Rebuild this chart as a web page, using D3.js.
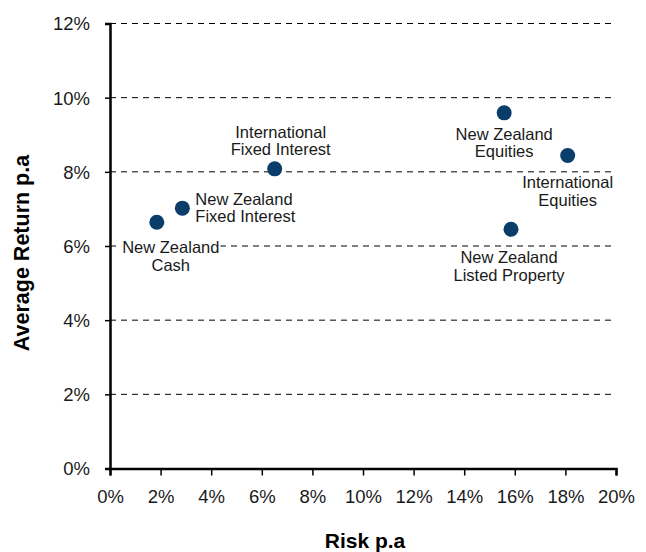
<!DOCTYPE html>
<html>
<head>
<meta charset="utf-8">
<script src="https://cdn.jsdelivr.net/npm/d3@7"></script>
<style>
  body { margin: 0; background: #fff; }
  svg { display: block; font-family: "Liberation Sans", Arial, sans-serif; }
</style>
</head>
<body>
<div id="chart"></div>
<script>
// asset classes, risk (x) and average return (y), both in %
var names = [
  ["New Zealand", "Cash"],
  ["New Zealand", "Fixed Interest"],
  ["International", "Fixed Interest"],
  ["New Zealand", "Equities"],
  ["International", "Equities"],
  ["New Zealand", "Listed Property"]
]
var risk = [1.85, 2.86, 6.51, 15.58, 18.09, 15.85]
var ret = [6.64, 7.02, 8.08, 9.59, 8.44, 6.45]

// where each label sits relative to its dot
var labelPos = [
  { dx: 14, dy: 25, anchor: "middle" },
  { dx: 13, dy: -9, anchor: "start" },
  { dx: 6, dy: -37, anchor: "middle" },
  { dx: 0, dy: 21, anchor: "middle" },
  { dx: 0, dy: 27, anchor: "middle" },
  { dx: -2, dy: 28, anchor: "middle" }
]

var xTicks = [0, 2, 4, 6, 8, 10, 12, 14, 16, 18, 20]
var yTicks = [0, 2, 4, 6, 8, 10, 12]

var width = 646, height = 552
var margin = { top: 23.5, right: 30, bottom: 83.5, left: 110 }

var data = names.map((n, i) => ({ name: n, x: risk[i], y: ret[i], pos: labelPos[i] }))

var x = d3.scaleLinear().domain([0, 20]).range([margin.left, width - margin.right])
var y = d3.scaleLinear().domain([0, 12]).range([height - margin.bottom, margin.top])

var svg = d3.select('#chart').append('svg')
  .attr('width', width)
  .attr('height', height)

// dashed grid lines
svg.append('g')
  .selectAll('line')
  .data(yTicks.filter(d => d > 0))
  .join('line')
  .attr('x1', x(0))
  .attr('x2', x(20))
  .attr('y1', d => y(d))
  .attr('y2', d => y(d))
  .attr('stroke', '#000')
  .attr('stroke-width', 1)
  .attr('stroke-dasharray', '6,5')

var xAxis = svg.append('g')
  .attr('transform', 'translate(0,' + y(0) + ')')
  .call(d3.axisBottom(x).tickValues(xTicks).tickSize(7).tickPadding(14).tickFormat(d => d + '%'))

var yAxis = svg.append('g')
  .attr('transform', 'translate(' + x(0) + ',0)')
  .call(d3.axisLeft(y).tickValues(yTicks).tickSize(5).tickPadding(15).tickFormat(d => d + '%'))

;[xAxis, yAxis].forEach(function(a) {
  a.select('.domain').attr('stroke', '#000').attr('stroke-width', 2.5)
  a.selectAll('.tick line').attr('stroke', '#000').attr('stroke-width', 1.5)
  a.selectAll('.tick text')
    .attr('font-size', 18.5)
    .attr('fill', '#1a1a1a')
    .attr('font-family', '"Liberation Sans", Arial, sans-serif')
})
yAxis.selectAll('.tick text').attr('dy', '0.35em')

// dots
svg.append('g')
  .selectAll('circle')
  .data(data)
  .join('circle')
  .attr('cx', d => x(d.x))
  .attr('cy', d => y(d.y))
  .attr('r', 7.5)
  .attr('fill', '#0b3d6b')

// labels, two lines each, on a white box that hides the grid behind
var labelG = svg.append('g')
  .attr('font-size', 16.5)
  .attr('fill', '#1a1a1a')

var labels = labelG.selectAll('g')
  .data(data)
  .join('g')

var texts = labels.append('text')
  .attr('text-anchor', d => d.pos.anchor)
  .attr('x', d => x(d.x) + d.pos.dx)
  .attr('y', d => y(d.y) + d.pos.dy)

texts.selectAll('tspan')
  .data(d => d.name.map(t => ({ t: t, d: d })))
  .join('tspan')
  .attr('x', o => x(o.d.x) + o.d.pos.dx)
  .attr('dy', (o, i) => i == 0 ? '0.35em' : 17.5)
  .text(o => o.t)

texts.each(function() {
  var b = this.getBBox()
  d3.select(this.parentNode).insert('rect', 'text')
    .attr('x', b.x - 1)
    .attr('y', b.y + 2)
    .attr('width', b.width + 2)
    .attr('height', b.height - 3)
    .attr('fill', '#fff')
})

// axis titles
svg.append('text')
  .attr('x', (x(0) + x(20)) / 2 + 2)
  .attr('y', 548)
  .attr('text-anchor', 'middle')
  .attr('font-size', 21)
  .attr('font-weight', 'bold')
  .text('Risk p.a')

svg.append('text')
  .attr('transform', 'translate(29,' + (y(6) + 7) + ') rotate(-90)')
  .attr('text-anchor', 'middle')
  .attr('font-size', 21.5)
  .attr('font-weight', 'bold')
  .text('Average Return p.a')
</script>
</body>
</html>
